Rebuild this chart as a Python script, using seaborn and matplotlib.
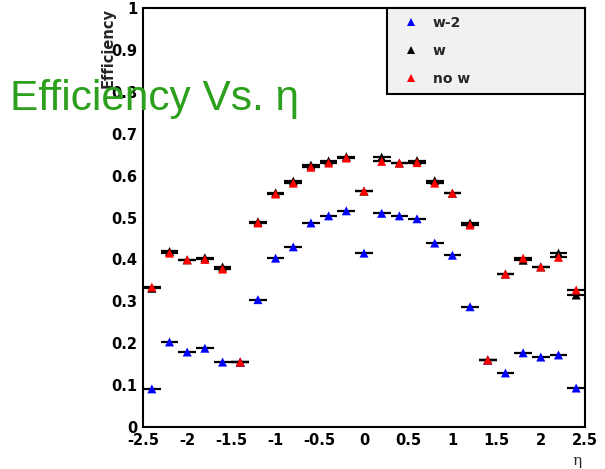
import numpy as np
import pandas as pd
import matplotlib
matplotlib.use("Agg")
import matplotlib.pyplot as plt
import seaborn as sns

# Bin centres in eta (bin width 0.2)
eta = [-2.4, -2.2, -2.0, -1.8, -1.6, -1.4, -1.2, -1.0, -0.8, -0.6, -0.4, -0.2, 0.0,
       0.2, 0.4, 0.6, 0.8, 1.0, 1.2, 1.4, 1.6, 1.8, 2.0, 2.2, 2.4]
bin_half_width = 0.1

eff_w2 = [0.091, 0.203, 0.179, 0.188, 0.155, 0.155, 0.304, 0.403, 0.430, 0.487, 0.504, 0.516, 0.415,
          0.510, 0.504, 0.497, 0.439, 0.410, 0.287, 0.160, 0.129, 0.177, 0.167, 0.172, 0.093]
eff_w = [0.331, 0.419, 0.399, 0.404, 0.382, 0.155, 0.490, 0.559, 0.587, 0.625, 0.635, 0.645, 0.563,
         0.644, 0.630, 0.636, 0.588, 0.558, 0.487, 0.160, 0.365, 0.398, 0.382, 0.415, 0.315]
eff_now = [0.334, 0.415, 0.399, 0.400, 0.377, 0.155, 0.487, 0.556, 0.582, 0.620, 0.630, 0.642, 0.563,
           0.634, 0.630, 0.631, 0.582, 0.558, 0.482, 0.160, 0.365, 0.403, 0.382, 0.405, 0.327]

series_names = ["w-2", "w", "no w"]
series_colors = ["#0000ff", "#000000", "#ff0000"]

x_ticks = [-2.5, -2.0, -1.5, -1.0, -0.5, 0.0, 0.5, 1.0, 1.5, 2.0, 2.5]
x_tick_labels = ["-2.5", "-2", "-1.5", "-1", "-0.5", "0", "0.5", "1", "1.5", "2", "2.5"]
y_ticks = [0.0, 0.1, 0.2, 0.3, 0.4, 0.5, 0.6, 0.7, 0.8, 0.9, 1.0]
y_tick_labels = ["0", "0.1", "0.2", "0.3", "0.4", "0.5", "0.6", "0.7", "0.8", "0.9", "1"]

df = pd.concat(
    [pd.DataFrame({"eta": eta, "eff": vals, "sample": name})
     for name, vals in zip(series_names, [eff_w2, eff_w, eff_now])],
    ignore_index=True,
)

sns.set_style("white")
plt.rcParams["font.family"] = ["DejaVu Sans"]
plt.rcParams["axes.unicode_minus"] = False

fig = plt.figure(figsize=(6.05, 4.69), dpi=100)
ax = fig.add_axes([143 / 605, 1 - 427 / 469, 442 / 605, 419 / 469])

# horizontal bin-width bars, drawn in black for every sample
for name, vals in zip(series_names, [eff_w2, eff_w, eff_now]):
    ax.errorbar(eta, vals, xerr=bin_half_width, fmt="none", ecolor="black",
                elinewidth=1.6, capsize=0, zorder=2)

sns.scatterplot(data=df, x="eta", y="eff", hue="sample", hue_order=series_names,
                palette=dict(zip(series_names, series_colors)), marker="^", s=42,
                linewidth=0, ax=ax, zorder=3)

ax.set_xlim(-2.5, 2.5)
ax.set_ylim(0, 1)
ax.set_xticks(x_ticks)
ax.set_xticklabels(x_tick_labels)
ax.set_yticks(y_ticks)
ax.set_yticklabels(y_tick_labels)
ax.set_xticks(np.arange(-2.5, 2.5001, 0.1), minor=True)
ax.set_yticks(np.arange(0, 1.0001, 0.02), minor=True)
ax.tick_params(which="both", direction="in", top=False, right=False, width=1.5,
               labelsize=10.5, colors="black")
ax.tick_params(which="major", length=10, pad=4)
ax.tick_params(which="minor", length=5)
ax.tick_params(axis="x", which="major", length=9, pad=4)
for lab in ax.get_xticklabels() + ax.get_yticklabels():
    lab.set_fontweight("bold")
for sp in ax.spines.values():
    sp.set_visible(True)
    sp.set_color("black")
    sp.set_linewidth(1.5)
ax.set_xlabel("")
ax.set_ylabel("")

handles, labels = ax.get_legend_handles_labels()
leg = ax.legend(handles, labels, loc="upper left",
                bbox_to_anchor=(244 / 442, 0.0, 198 / 442, 1.0), mode="expand",
                borderaxespad=0, frameon=True, fancybox=False, framealpha=1,
                facecolor="#f1f1f1", edgecolor="black",
                prop={"size": 10, "weight": "bold"}, labelspacing=1.0,
                borderpad=0.6, handlelength=2.2, handletextpad=0.5, markerscale=0.8)
leg.get_frame().set_linewidth(1.5)
leg.set_zorder(5)

fig.text(116 / 605, 1 - 8 / 469, "Efficiency", rotation=90, ha="right", va="top",
         fontsize=10.5, fontweight="bold")
fig.text(577 / 605, 1 - 461 / 469, "η", ha="center", va="center",
         fontsize=11, family="DejaVu Serif")
fig.text(10 / 605, 1 - 110 / 469, "Efficiency Vs. η", ha="left", va="baseline",
         fontsize=30.5, color="#2ca01c", family=["Liberation Sans"], zorder=10)

fig.savefig("out.png", dpi=100, facecolor="white")
